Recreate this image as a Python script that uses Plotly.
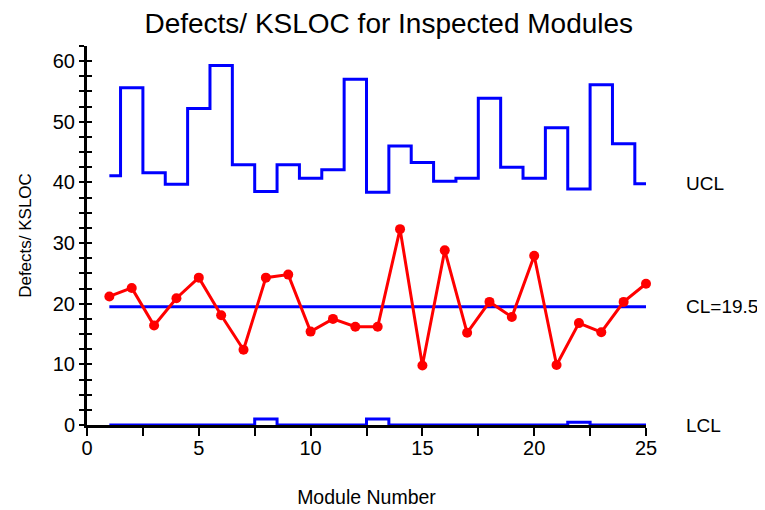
import plotly.graph_objects as go

# Module numbers and u-chart values
modules = list(range(1, 26))
defects_per_ksloc = [21.2, 22.6, 16.4, 20.9, 24.3, 18.1, 12.4, 24.3, 24.8, 15.4,
                     17.5, 16.2, 16.2, 32.3, 9.8, 28.8, 15.2, 20.3, 17.8, 27.9,
                     9.9, 16.8, 15.3, 20.3, 23.3]
ucl = [41.1, 55.6, 41.6, 39.7, 52.2, 59.3, 42.9, 38.5, 42.9, 40.7,
       42.1, 57.0, 38.4, 46.0, 43.3, 40.2, 40.7, 53.9, 42.5, 40.7,
       49.0, 38.9, 56.1, 46.4, 39.8]
lcl = [0, 0, 0, 0, 0, 0, 0, 1.0, 0, 0,
       0, 0, 1.0, 0, 0, 0, 0, 0, 0, 0,
       0, 0.45, 0, 0, 0]
center_line = 19.5
x_max = 25

FONT = "Liberation Sans, Arial, sans-serif"
BLUE = "#0000ff"
RED = "#ff0000"

fig = go.Figure()

# control limits as step lines, centre line flat
fig.add_trace(go.Scatter(x=modules, y=ucl, mode="lines",
                         line=dict(color=BLUE, width=3, shape="hvh"),
                         cliponaxis=False, showlegend=False))
fig.add_trace(go.Scatter(x=modules, y=lcl, mode="lines",
                         line=dict(color=BLUE, width=3, shape="hvh"),
                         cliponaxis=False, showlegend=False))
fig.add_trace(go.Scatter(x=[modules[0], modules[-1]], y=[center_line, center_line],
                         mode="lines", line=dict(color=BLUE, width=3),
                         cliponaxis=False, showlegend=False))
fig.add_trace(go.Scatter(x=modules, y=defects_per_ksloc, mode="lines+markers",
                         line=dict(color=RED, width=3),
                         marker=dict(color=RED, size=10),
                         cliponaxis=False, showlegend=False))
# empty trace so the inside-tick twin of the y axis gets drawn
fig.add_trace(go.Scatter(x=[], y=[], yaxis="y2", showlegend=False))

# labels for the limit lines, placed just right of the plot
labels = [("UCL", ucl[-1]), ("CL=%.1f" % center_line, center_line), ("LCL", lcl[-1])]
for text, yv in labels:
    fig.add_annotation(x=1.068, y=yv, xref="paper", yref="y", text=text,
                       showarrow=False, xanchor="left", yanchor="middle",
                       font=dict(family=FONT, size=19, color="black"))

# the page body adds an 8px offset, so the figure is 8px smaller than the window
fig.update_layout(
    width=757, height=502,
    margin=dict(l=79, r=119, t=38, b=85, autoexpand=False),
    paper_bgcolor="white", plot_bgcolor="white",
    font=dict(family=FONT, size=20, color="black"),
    title=dict(text="Defects/ KSLOC for Inspected Modules",
               x=0.503, xanchor="center", y=0.97, yanchor="middle",
               font=dict(family=FONT, size=28, color="black")),
    xaxis=dict(range=[0, x_max], tick0=0, dtick=5, showgrid=False, zeroline=False,
               automargin=False,
               showline=True, linecolor="black", linewidth=3, layer="below traces",
               ticks="outside", ticklen=8, tickwidth=2, tickcolor="black",
               ticklabelstandoff=-5,
               minor=dict(dtick=2.5, ticks="outside", ticklen=8, tickwidth=2,
                          tickcolor="black", showgrid=False),
               title=dict(text="Module Number", standoff=33,
                          font=dict(family=FONT, size=19.5))),
    yaxis=dict(range=[0, 62.5], tick0=0, dtick=10, showgrid=False, zeroline=False,
               automargin=False,
               showline=True, linecolor="black", linewidth=3, layer="below traces",
               ticks="outside", ticklen=5, tickwidth=2, tickcolor="black",
               minor=dict(dtick=2.5, ticks="outside", ticklen=5, tickwidth=2,
                          tickcolor="black", showgrid=False),
               title=dict(text="Defects/ KSLOC", standoff=17,
                          font=dict(family=FONT, size=17))),
    yaxis2=dict(range=[0, 62.5], overlaying="y", side="left", showgrid=False,
                zeroline=False, showticklabels=False, dtick=10, automargin=False,
                ticks="inside", ticklen=5, tickwidth=2, tickcolor="black",
                minor=dict(dtick=2.5, ticks="inside", ticklen=5, tickwidth=2,
                           tickcolor="black", showgrid=False)),
)

fig.write_html("out.html")
